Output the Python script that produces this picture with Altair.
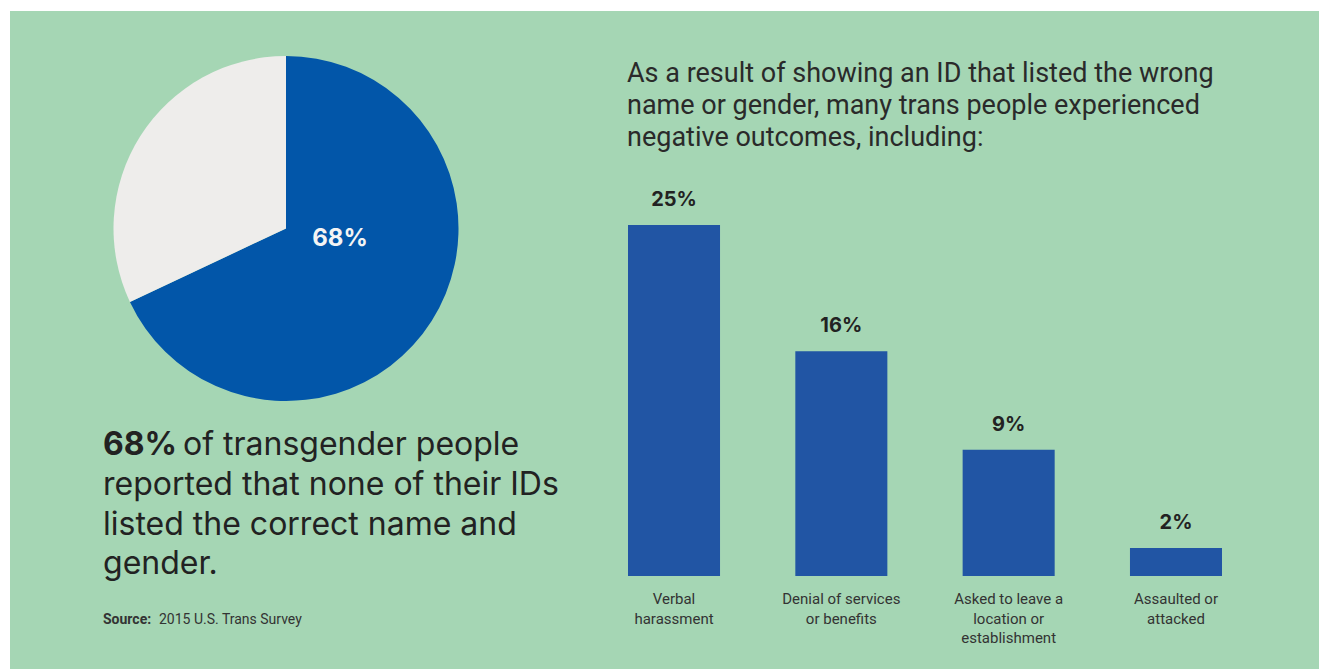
import altair as alt
import pandas as pd

# ---- data ----
categories = ["Verbal harassment", "Denial of services or benefits",
              "Asked to leave a location or establishment", "Assaulted or attacked"]
category_lines = ["Verbal\nharassment", "Denial of services\nor benefits",
                  "Asked to leave a\nlocation or\nestablishment", "Assaulted or\nattacked"]
values = [25, 16, 9, 2]

pie_keys = ["No ID listed correct name and gender", "Other"]
pie_values = [68, 32]
pie_label = ["68%"]

title_lines = ["As a result of showing an ID that listed the wrong\nname or gender, many trans people experienced\nnegative outcomes, including:"]
lead_bold = ["68%"]
lead_rest_first = ["of transgender people"]
lead_rest = ["reported that none of their IDs\nlisted the correct name and\ngender."]
source_bold = ["Source:"]
source_text = ["2015 U.S. Trans Survey"]

# ---- styles ----
GREEN = "#a5d6b4"
PIE_BLUE = "#0256a9"
PIE_GRAY = "#eeedeb"
BAR_BLUE = "#2155a4"
DARK = "#222222"
W, H = 1309, 658

bar_df = pd.DataFrame({"cat": categories, "val": values, "label": category_lines})
pie_df = pd.DataFrame({"k": pie_keys, "v": pie_values, "i": list(range(len(pie_keys)))})

xscale = alt.Scale(domain=categories, range=[618, 1212], paddingInner=0.45, paddingOuter=0)
yscale = alt.Scale(domain=[0, 25], range=[565, 214], nice=False, zero=True)

base = alt.Chart(bar_df)
bars = base.mark_bar(color=BAR_BLUE).encode(
    x=alt.X("cat:N", scale=xscale, axis=None, sort=categories),
    y=alt.Y("val:Q", scale=yscale, axis=None),
)
val_text = base.transform_calculate(t="datum.val + '%'").mark_text(
    font="Inter", fontSize=20, fontWeight="bold", color=DARK,
    baseline="alphabetic", dy=-19
).encode(
    x=alt.X("cat:N", scale=xscale, axis=None, sort=categories),
    y=alt.Y("val:Q", scale=yscale, axis=None),
    text="t:N",
)
cat_text = base.mark_text(
    font="Roboto", fontSize=15, color="#333333",
    baseline="alphabetic", lineBreak="\n", lineHeight=19.5
).encode(
    x=alt.X("cat:N", scale=xscale, axis=None, sort=categories),
    y=alt.value(593),
    text="label:N",
)

pie = alt.Chart(pie_df).mark_arc(radius=172.5).encode(
    theta=alt.Theta("v:Q", stack=True),
    color=alt.Color("k:N", scale=alt.Scale(domain=pie_keys, range=[PIE_BLUE, PIE_GRAY]), legend=None),
    order=alt.Order("i:Q"),
    x=alt.value(276), y=alt.value(217.5),
)
pie_txt = alt.Chart(pd.DataFrame({"t": pie_label})).mark_text(
    font="Inter", fontSize=24, fontWeight="bold", color="#f4f4f4", baseline="alphabetic", align="center"
).encode(x=alt.value(330), y=alt.value(235), text="t:N")

def txt(lines, x, y, size, font, weight="normal", lh=None, color=DARK):
    kw = dict(font=font, fontSize=size, fontWeight=weight, color=color,
              baseline="alphabetic", align="left", lineBreak="\n")
    if lh:
        kw["lineHeight"] = lh
    return alt.Chart(pd.DataFrame({"t": lines})).mark_text(**kw).encode(
        x=alt.value(x), y=alt.value(y), text="t:N")

title = txt(title_lines, 617, 71, 27, "Roboto", lh=32, color="#2a2a2a")
lead1 = txt(lead_bold, 93, 444, 32, "Inter", weight="bold", color=DARK)
lead2 = txt(lead_rest_first, 173, 444, 32, "Inter", color=DARK)
lead3 = txt(lead_rest, 93, 484, 32, "Inter", lh=39.5, color=DARK)
src1 = txt(source_bold, 93, 613, 14, "Roboto", weight="bold", color="#333333")
src2 = txt(source_text, 149, 613, 14, "Roboto", color="#333333")

chart = alt.layer(pie, pie_txt, bars, val_text, cat_text, title, lead1, lead2, lead3, src1, src2).properties(
    width=W, height=H,
    padding={"left": 2, "top": 3, "right": 0, "bottom": 0},
    autosize=alt.AutoSizeParams(type="none"),
    background="white",
).configure_view(fill=GREEN, stroke=None)

chart.save("out.html", embed_options={"renderer": "svg", "actions": False})
